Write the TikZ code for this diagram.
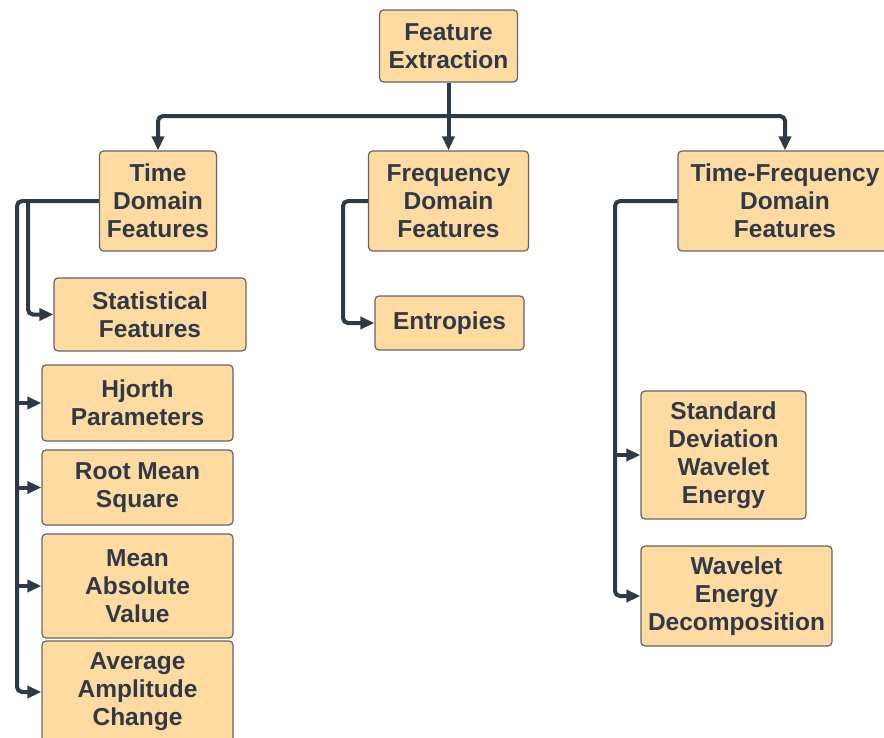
\documentclass[tikz,border=0pt]{standalone}
\usepackage{fontspec}
\setmainfont{Liberation Sans}
\usetikzlibrary{arrows.meta}
\definecolor{boxfill}{RGB}{255,219,161}
\definecolor{boxedge}{RGB}{100,100,100}
\definecolor{ink}{RGB}{47,58,72}
\tikzset{
	featbox/.style={draw=boxedge,fill=boxfill,line width=1.2pt,rounded corners=4pt,text=ink,
		font=\bfseries\fontsize{24.5}{28}\selectfont,align=center,inner sep=0pt},
	conn/.style={draw=ink,line width=4pt,rounded corners=5pt,-{Triangle[length=14pt,width=12pt]}}
}
\begin{document}
\begin{tikzpicture}[x=1pt,y=-1pt]
	\useasboundingbox (0,0) rectangle (884,737);
	% boxes
	\node[featbox,minimum width=138pt,minimum height=72pt] (fe) at (448.5,46) {Feature\\Extraction};
	\node[featbox,minimum width=117pt,minimum height=100pt] (tdf) at (158,201) {Time\\Domain\\Features};
	\node[featbox,minimum width=160pt,minimum height=100pt] (fdf) at (448.5,201) {Frequency\\Domain\\Features};
	\node[featbox,minimum width=214pt,minimum height=100pt] (tfdf) at (785,201) {Time-Frequency\\Domain\\Features};
	\node[featbox,minimum width=192pt,minimum height=73pt] (stat) at (150,314.5) {Statistical\\Features};
	\node[featbox,minimum width=149pt,minimum height=54pt] (entr) at (449.5,323) {Entropies};
	\node[featbox,minimum width=191pt,minimum height=76pt] (hjorth) at (137.5,403) {Hjorth\\Parameters};
	\node[featbox,minimum width=191pt,minimum height=75pt] (rms) at (137.5,487.5) {Root Mean\\Square};
	\node[featbox,minimum width=191pt,minimum height=104pt] (mav) at (137.5,586) {Mean\\Absolute\\Value};
	\node[featbox,minimum width=191pt,minimum height=102pt] (aac) at (137.5,692) {Average\\Amplitude\\Change};
	\node[featbox,minimum width=165pt,minimum height=128pt] (sdwe) at (723.5,455) {Standard\\Deviation\\Wavelet\\Energy};
	\node[featbox,minimum width=191pt,minimum height=100pt] (wed) at (736.5,596) {Wavelet\\Energy\\Decomposition};
	% top level
	\coordinate (split) at (448.5,116);
	\draw[conn] (split) -| (tdf.north);
	\draw[conn] (split) -| (tfdf.north);
	\draw[conn] (fe.south) -- (fdf.north);
	% time domain
	\coordinate (tout) at (17,201);
	\coordinate (tin) at (28,201);
	\draw[conn] (tdf.west) -- (tout) |- (aac.west);
	\draw[conn] (tin) |- (stat.west);
	\draw[conn] (tout |- hjorth.west) -- (hjorth.west);
	\draw[conn] (tout |- rms.west) -- (rms.west);
	\draw[conn] (tout |- mav.west) -- (mav.west);
	% frequency domain
	\coordinate (fleft) at (343,201);
	\draw[conn] (fdf.west) -- (fleft) |- (entr.west);
	% time-frequency domain
	\coordinate (tfleft) at (615,201);
	\draw[conn] (tfdf.west) -- (tfleft) |- (wed.west);
	\draw[conn] (tfleft |- sdwe.west) -- (sdwe.west);
\end{tikzpicture}
\end{document}
